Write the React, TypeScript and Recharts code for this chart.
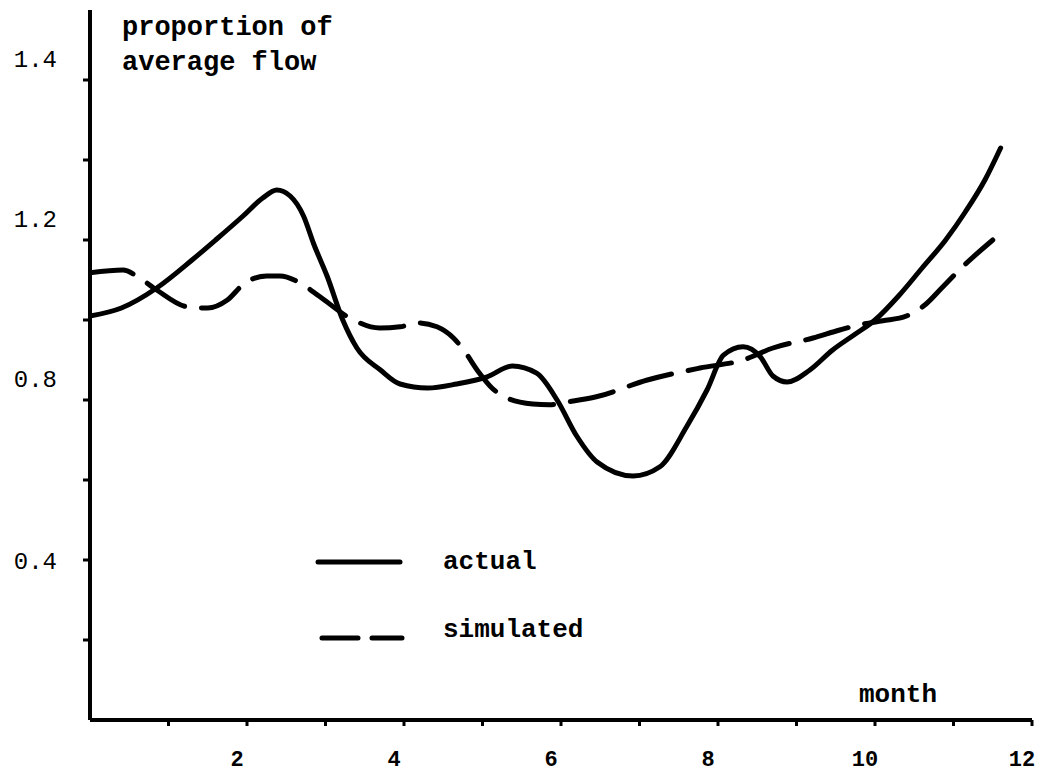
import React from "react";
import { LineChart, Line, XAxis, YAxis } from "recharts";

const FONT = "'Liberation Mono', 'DejaVu Sans Mono', monospace";

// ---- data (month, proportion of average flow) ----
const actualMonths = [0, 0.4, 0.85, 1.3, 1.6, 1.95, 2.2, 2.38, 2.55, 2.72, 2.85, 3.02, 3.22, 3.4, 3.7, 3.95, 4.3, 4.67, 5.06, 5.38, 5.69, 5.95, 6.2, 6.46, 6.92, 7.26, 7.6, 7.86, 8.07, 8.32, 8.54, 8.7, 8.88, 9.17, 9.46, 9.75, 10.0, 10.3, 10.6, 10.9, 11.15, 11.4, 11.6];
const actualValues = [1.01, 1.03, 1.08, 1.15, 1.2, 1.26, 1.305, 1.325, 1.31, 1.26, 1.19, 1.11, 1.0, 0.93, 0.875, 0.84, 0.83, 0.84, 0.858, 0.885, 0.867, 0.8, 0.71, 0.645, 0.61, 0.633, 0.733, 0.825, 0.912, 0.933, 0.908, 0.86, 0.845, 0.875, 0.925, 0.965, 1.0, 1.06, 1.13, 1.2, 1.27, 1.35, 1.43];

const simulatedMonths = [0, 0.42, 0.61, 0.85, 1.24, 1.5, 1.75, 1.97, 2.25, 2.42, 2.68, 2.93, 3.31, 3.69, 3.95, 4.17, 4.42, 4.63, 4.76, 4.95, 5.12, 5.31, 5.64, 5.85, 6.08, 6.45, 7.1, 7.77, 8.32, 8.7, 9.21, 9.55, 9.85, 10.1, 10.4, 10.65, 10.85, 11.1, 11.5];
const simulatedValues = [1.118, 1.125, 1.108, 1.075, 1.033, 1.03, 1.05, 1.092, 1.11, 1.11, 1.092, 1.058, 1.005, 0.98, 0.983, 0.993, 0.983, 0.955, 0.925, 0.87, 0.83, 0.805, 0.79, 0.788, 0.795, 0.808, 0.85, 0.88, 0.9, 0.93, 0.955, 0.975, 0.99, 0.998, 1.01, 1.04, 1.08, 1.13, 1.2];

const xTickMonths = [1, 2, 3, 4, 5, 6, 7, 8, 9, 10, 11, 12];
const xLabelMonths = [2, 4, 6, 8, 10, 12];
const yTickValues = [0.2, 0.4, 0.6, 0.8, 1.0, 1.2, 1.4, 1.6];
const yTickLabels = ["", "0.4", "", "0.8", "", "1.2", "", "1.4"];

const seriesNames = ["actual", "simulated"];
const titleLines = ["proportion of", "average flow"];
const xTitle = "month";

const actualData = actualMonths.map((m, i) => ({ month: m, value: actualValues[i] }));
const simulatedData = simulatedMonths.map((m, i) => ({ month: m, value: simulatedValues[i] }));

const XTick = (props: any) => {
  const { x, y, payload } = props;
  if (!xLabelMonths.includes(payload.value)) return null;
  return (
    <text x={x - 10} y={y + 32} textAnchor="middle" dominantBaseline="central"
      fontFamily={FONT} fontWeight="bold" fontSize={22} fill="#000">
      {String(payload.value)}
    </text>
  );
};

const YTick = (props: any) => {
  const { x, y, payload } = props;
  const idx = yTickValues.findIndex((v) => Math.abs(v - payload.value) < 1e-6);
  const text = idx >= 0 ? yTickLabels[idx] : "";
  if (!text) return null;
  const shift = idx === 1 ? 2 : -20;
  return (
    <text x={x} y={y + shift} textAnchor="end" dominantBaseline="central"
      fontFamily={FONT} fontSize={24} fill="#000">
      {text}
    </text>
  );
};

const YTitle = (props: any) => {
  const vb = props.viewBox || { x: 30, y: 10, width: 60 };
  const x0 = vb.x + vb.width + 32;
  return (
    <g>
      {titleLines.map((t, i) => (
        <text key={t} x={x0} y={vb.y + 18 + i * 35} dominantBaseline="central"
          fontFamily={FONT} fontWeight="bold" fontSize={27} fill="#000">
          {t}
        </text>
      ))}
    </g>
  );
};

const XTitle = (props: any) => {
  const vb = props.viewBox || { x: 90, y: 720, width: 942 };
  return (
    <text x={vb.x + vb.width - 134} y={vb.y - 25} textAnchor="middle" dominantBaseline="central"
      fontFamily={FONT} fontWeight="bold" fontSize={26} fill="#000">
      {xTitle}
    </text>
  );
};

const LegendBox = () => (
  <svg width={300} height={110} style={{ position: "absolute", left: 310, top: 540 }}>
    <line x1={8} y1={22} x2={90} y2={22} stroke="#000" strokeWidth={5} strokeLinecap="round" />
    <text x={133} y={22} dominantBaseline="central" fontFamily={FONT} fontWeight="bold" fontSize={26}>{seriesNames[0]}</text>
    <line x1={12} y1={98} x2={92} y2={98} stroke="#000" strokeWidth={5} strokeLinecap="round" strokeDasharray="36 14" />
    <text x={133} y={90} dominantBaseline="central" fontFamily={FONT} fontWeight="bold" fontSize={26}>{seriesNames[1]}</text>
  </svg>
);

export default function App() {
  return (
    <div style={{ position: "absolute", left: 0, top: 0, width: 1044, height: 772, background: "#fff", overflow: "hidden" }}>
      <LineChart width={1044} height={772} margin={{ top: 10, right: 12, bottom: 22, left: 30 }}>
        <XAxis
          type="number"
          dataKey="month"
          domain={[0, 12]}
          ticks={xTickMonths}
          allowDataOverflow
          axisLine={{ stroke: "#000", strokeWidth: 4 }}
          tickLine={{ stroke: "#000", strokeWidth: 3 }}
          tickSize={6}
          tickMargin={2}
          height={30}
          tick={<XTick />}
          label={<XTitle />}
        />
        <YAxis
          type="number"
          domain={[0, 1.775]}
          ticks={yTickValues}
          allowDataOverflow
          axisLine={{ stroke: "#000", strokeWidth: 4 }}
          tickLine={{ stroke: "#000", strokeWidth: 3 }}
          tickSize={7}
          tickMargin={26}
          width={60}
          tick={<YTick />}
          label={<YTitle />}
        />
        <Line
          data={actualData}
          dataKey="value"
          name={seriesNames[0]}
          type="monotone"
          stroke="#000"
          strokeWidth={5}
          dot={false}
          isAnimationActive={false}
          strokeLinecap="round"
        />
        <Line
          data={simulatedData}
          dataKey="value"
          name={seriesNames[1]}
          type="monotone"
          stroke="#000"
          strokeWidth={5}
          strokeDasharray="44 17"
          dot={false}
          isAnimationActive={false}
          strokeLinecap="round"
        />
      </LineChart>
      <LegendBox />
    </div>
  );
}
